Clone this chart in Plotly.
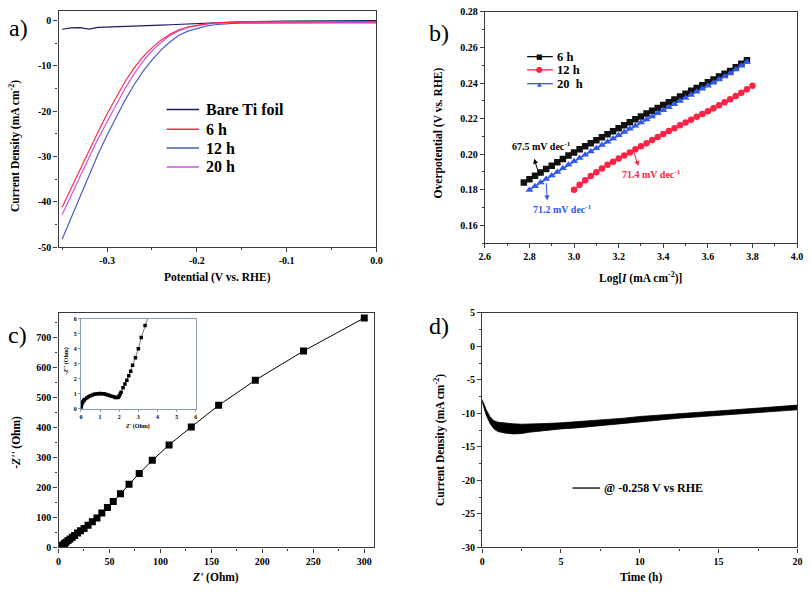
import plotly.graph_objects as go

W, H = 811, 592
def px(x): return x / W
def py(y): return 1 - y / H

FONT = "Liberation Serif"

# ---------------- Panel a: LSV ----------------
lsv_potential = [-0.35, -0.34, -0.33, -0.32, -0.31, -0.30, -0.29, -0.28, -0.27, -0.26,
                 -0.25, -0.24, -0.23, -0.22, -0.21, -0.20, -0.19, -0.18, -0.17, -0.16,
                 -0.15, -0.12, -0.10, -0.05, 0.0]
lsv_bare = [-1.9, -1.6, -1.55, -1.85, -1.5, -1.45, -1.4, -1.3, -1.2, -1.15,
            -1.1, -1.0, -0.9, -0.8, -0.75, -0.7, -0.6, -0.5, -0.4, -0.32,
            -0.28, -0.15, -0.08, -0.03, 0.0]
lsv_6h = [-41.2, -37.0, -32.9, -28.8, -24.6, -20.6, -16.9, -13.5, -10.5, -8.0,
          -6.0, -4.3, -3.0, -2.0, -1.4, -1.0, -0.7, -0.5, -0.4, -0.35,
          -0.3, -0.25, -0.22, -0.2, -0.2]
lsv_12h = [-48.3, -43.5, -38.7, -34.0, -29.5, -25.3, -21.3, -17.6, -14.2, -11.2,
           -8.7, -6.5, -4.7, -3.2, -2.3, -1.7, -1.2, -0.9, -0.7, -0.6,
           -0.55, -0.5, -0.5, -0.5, -0.5]
lsv_20h = [-42.9, -38.6, -34.4, -30.2, -26.1, -22.3, -18.5, -15.0, -11.8, -9.0,
           -6.7, -4.8, -3.3, -2.2, -1.5, -1.05, -0.75, -0.55, -0.45, -0.4,
           -0.35, -0.3, -0.3, -0.3, -0.3]
a_xticks = [-0.3, -0.2, -0.1, 0.0]
a_xtext = ["-0.3", "-0.2", "-0.1", "0.0"]
a_yticks = [-50, -40, -30, -20, -10, 0]
a_ytext = ["-50", "-40", "-30", "-20", "-10", "0"]

# ---------------- Panel b: Tafel ----------------
tafel_6h_x = [2.775, 2.800, 2.825, 2.850, 2.875, 2.900, 2.925, 2.950, 2.975, 3.000,
              3.025, 3.050, 3.075, 3.100, 3.125, 3.150, 3.175, 3.200, 3.225, 3.250,
              3.275, 3.300, 3.325, 3.350, 3.375, 3.400, 3.425, 3.450, 3.475, 3.500,
              3.525, 3.550, 3.575, 3.600, 3.625, 3.650, 3.675, 3.700, 3.725, 3.750, 3.775]
tafel_6h_y = [.1840, .1859, .1878, .1897, .1916, .1935, .1954, .1973, .1992, .2010,
              .2027, .2044, .2061, .2078, .2095, .2112, .2129, .2146, .2163, .2180,
              .2196, .2212, .2228, .2244, .2260, .2276, .2292, .2308, .2324, .2340,
              .2356, .2372, .2388, .2404, .2420, .2436, .2452, .2468, .2488, .2508, .2528]
tafel_20h_x = [2.800, 2.825, 2.850, 2.875, 2.900, 2.925, 2.950, 2.975, 3.000,
               3.025, 3.050, 3.075, 3.100, 3.125, 3.150, 3.175, 3.200, 3.225, 3.250,
               3.275, 3.300, 3.325, 3.350, 3.375, 3.400, 3.425, 3.450, 3.475, 3.500,
               3.525, 3.550, 3.575, 3.600, 3.625, 3.650, 3.675, 3.700, 3.725, 3.750, 3.775]
tafel_20h_y = [.1799, .1819, .1840, .1860, .1880, .1900, .1921, .1941, .1960,
               .1979, .1997, .2015, .2033, .2052, .2070, .2088, .2107, .2125, .2143,
               .2160, .2178, .2195, .2212, .2230, .2247, .2264, .2281, .2299, .2316,
               .2333, .2351, .2368, .2385, .2402, .2420, .2437, .2454, .2476, .2497, .2518]
tafel_12h_x = [3.000, 3.025, 3.050, 3.075, 3.100, 3.125, 3.150, 3.175, 3.200, 3.225,
               3.250, 3.275, 3.300, 3.325, 3.350, 3.375, 3.400, 3.425, 3.450, 3.475,
               3.500, 3.525, 3.550, 3.575, 3.600, 3.625, 3.650, 3.675, 3.700, 3.725,
               3.750, 3.775, 3.800]
tafel_12h_y = [.1800, .1828, .1853, .1877, .1899, .1920, .1940, .1958, .1975, .1992,
               .2010, .2027, .2045, .2062, .2079, .2096, .2113, .2130, .2146, .2162,
               .2178, .2194, .2210, .2226, .2242, .2258, .2275, .2292, .2309, .2327,
               .2345, .2365, .2385]

# ---------------- Panel c: Nyquist ----------------
eis_zre = [0.02, 0.05, 0.1, 0.15, 0.2, 0.3, 0.4, 0.5, 0.6, 0.7, 0.8, 0.9, 1.0, 1.1,
           1.2, 1.3, 1.4, 1.5, 1.6, 1.7, 1.8, 1.9, 1.95, 2.0, 2.05, 2.1, 2.2, 2.3,
           2.4, 2.5, 2.6, 2.7, 2.85, 3.0, 3.15, 3.35,
           4.2, 5.8, 7.4, 9.3, 11.3, 13.5, 15.8, 18.7, 21.6, 25.1, 29.0, 33.2, 37.7,
           42.5, 48.0, 53.7, 60.8, 69.2, 79.2, 92.0, 108.5, 130.3, 157.1, 193.1, 240.4, 300.0]
eis_zim = [0.1, 0.3, 0.45, 0.55, 0.62, 0.72, 0.8, 0.87, 0.92, 0.96, 0.98, 1.0, 1.01, 1.0,
           0.99, 0.96, 0.92, 0.88, 0.83, 0.79, 0.75, 0.74, 0.76, 0.85, 0.98, 1.1, 1.4, 1.65,
           1.9, 2.2, 2.5, 2.9, 3.4, 4.0, 4.75, 5.55,
           8.7, 13.0, 17.5, 23.0, 28.0, 34.0, 40.0, 48.0, 56.0, 63.0, 74.0, 86.0, 98.0,
           115.0, 133.0, 153.0, 179.0, 211.0, 247.0, 290.5, 342.0, 402.0, 474.0, 558.0, 655.0, 765.5]

# ---------------- Panel d: stability ----------------
chrono_t = [0, 0.1, 0.25, 0.5, 0.75, 1, 1.5, 2, 2.5, 3, 4, 5, 6, 7.5, 9, 10, 11, 12.5,
            14, 15, 16, 17.5, 19, 20]
chrono_upper = [-7.95, -8.6, -9.4, -10.5, -11.1, -11.3, -11.45, -11.55, -11.6, -11.6, -11.5,
                -11.4, -11.25, -11.0, -10.7, -10.45, -10.3, -10.0, -9.75, -9.6, -9.45, -9.2,
                -8.95, -8.75]
chrono_lower = [-8.25, -9.2, -10.2, -11.5, -12.3, -12.7, -12.95, -13.05, -13.0, -12.8, -12.5,
                -12.3, -12.15, -11.8, -11.5, -11.25, -11.0, -10.7, -10.45, -10.3, -10.15, -9.9,
                -9.65, -9.45]
d_yticks = [-30, -25, -20, -15, -10, -5, 0, 5]
d_ytext = ["-30", "-25", "-20", "-15", "-10", "-5", "0", "5"]

C_BARE = "#1c1c60"
C_6 = "#ff2a50"
C_12 = "#4a5cc8"
C_20 = "#cc55dd"
B_BLACK = "#111111"
B_RED = "#ff2244"
B_BLUE = "#3358ee"
AXC = "#3a3a3a"

fig = go.Figure()

# Panel a traces
fig.add_trace(go.Scatter(x=lsv_potential, y=lsv_bare, mode="lines", line=dict(color=C_BARE, width=1.2), xaxis="x", yaxis="y"))
fig.add_trace(go.Scatter(x=lsv_potential, y=lsv_12h, mode="lines", line=dict(color=C_12, width=1.2), xaxis="x", yaxis="y"))
fig.add_trace(go.Scatter(x=lsv_potential, y=lsv_20h, mode="lines", line=dict(color=C_20, width=1.2), xaxis="x", yaxis="y"))
fig.add_trace(go.Scatter(x=lsv_potential, y=lsv_6h, mode="lines", line=dict(color=C_6, width=1.2), xaxis="x", yaxis="y"))

# Panel b traces
fig.add_trace(go.Scatter(x=tafel_12h_x, y=tafel_12h_y, mode="lines+markers", line=dict(color=B_RED, width=1.5),
                         marker=dict(symbol="circle", size=6.5, color=B_RED), xaxis="x2", yaxis="y2"))
fig.add_trace(go.Scatter(x=tafel_6h_x, y=tafel_6h_y, mode="lines+markers", line=dict(color=B_BLACK, width=1.5),
                         marker=dict(symbol="square", size=6.5, color=B_BLACK), xaxis="x2", yaxis="y2"))
fig.add_trace(go.Scatter(x=tafel_20h_x, y=tafel_20h_y, mode="lines+markers", line=dict(color=B_BLUE, width=1.5),
                         marker=dict(symbol="triangle-up", size=7, color=B_BLUE), xaxis="x2", yaxis="y2"))

# Panel c traces
fig.add_trace(go.Scatter(x=eis_zre, y=eis_zim, mode="lines+markers", line=dict(color="black", width=1),
                         marker=dict(symbol="square", size=7, color="black"), xaxis="x3", yaxis="y3"))
fig.add_trace(go.Scatter(x=eis_zre, y=eis_zim, mode="lines+markers", line=dict(color="#555555", width=0.8),
                         marker=dict(symbol="square", size=3.5, color="black"), xaxis="x5", yaxis="y5"))

# Panel d traces
fig.add_trace(go.Scatter(x=chrono_t, y=chrono_upper, mode="lines", line=dict(color="black", width=0.8), xaxis="x4", yaxis="y4"))
fig.add_trace(go.Scatter(x=chrono_t, y=chrono_lower, mode="lines", line=dict(color="black", width=0.8),
                         fill="tonexty", fillcolor="black", xaxis="x4", yaxis="y4"))

tickfont = dict(family=FONT, size=10, color="black", weight="bold")

def axis(domain, rng, anchor, dtick=None, tick0=None, minor_dtick=None, tickvals=None, ticktext=None,
         fmt=None, font=tickfont, linecolor=AXC, ticklen=4, lw=1.3):
    d = dict(domain=domain, range=rng, anchor=anchor, showline=True, linecolor=linecolor, linewidth=lw,
             mirror=True, ticks="outside", ticklen=ticklen, tickwidth=1, tickcolor=linecolor,
             showgrid=False, zeroline=False, tickfont=font, fixedrange=True,
             ticklabeloverflow="allow")
    if tickvals is not None:
        d.update(tickmode="array", tickvals=tickvals, ticktext=ticktext)
    else:
        d.update(tickmode="linear", dtick=dtick)
        if tick0 is not None:
            d["tick0"] = tick0
    if fmt:
        d["tickformat"] = fmt
    if minor_dtick:
        d["minor"] = dict(tickmode="linear", tick0=0, dtick=minor_dtick, ticks="outside",
                          ticklen=2, tickcolor=linecolor, showgrid=False)
    return d

fig.update_layout(
    width=W, height=H, margin=dict(l=0, r=0, t=0, b=0),
    paper_bgcolor="white", plot_bgcolor="white", showlegend=False,
    xaxis=axis([px(53.3), px(376)], [-0.354, 0], "y", tickvals=a_xticks, ticktext=a_xtext, minor_dtick=0.05),
    yaxis=axis([py(246), py(5)], [-50, 2.16], "x", tickvals=a_yticks, ticktext=a_ytext, minor_dtick=5),
    xaxis2=axis([px(486), px(803)], [2.6, 4.0], "y2", dtick=0.2, tick0=2.6, fmt=".1f", minor_dtick=0.1),
    yaxis2=axis([py(242), py(6)], [0.15, 0.28], "x2", dtick=0.02, tick0=0.16, fmt=".2f", minor_dtick=0.01),
    xaxis3=axis([px(53.3), px(374)], [0, 310], "y3", dtick=50, minor_dtick=25),
    yaxis3=axis([py(552.7), py(313.3)], [0, 782], "x3", dtick=100, minor_dtick=50),
    xaxis4=axis([px(483.3), px(803.3)], [0, 20], "y4", dtick=5, minor_dtick=2.5),
    yaxis4=axis([py(552.7), py(313.3)], [-30, 5], "x4", tickvals=d_yticks, ticktext=d_ytext, minor_dtick=2.5),
    xaxis5=axis([px(76), px(192.7)], [0, 6], "y5", dtick=1,
                font=dict(family=FONT, size=6, color="black", weight="bold"), linecolor="#8a9ab0", ticklen=2, lw=1),
    yaxis5=axis([py(411), py(319.3)], [0, 6], "x5", dtick=1,
                font=dict(family=FONT, size=6, color="black", weight="bold"), linecolor="#8a9ab0", ticklen=2, lw=1),
)

ann = []
shapes = []

def text(x, y, s, size=11, color="black", bold=True, angle=0, xanchor="center", family=FONT):
    ann.append(dict(x=x, y=y, xref="paper", yref="paper", text=s, showarrow=False, textangle=angle,
                    xanchor=xanchor, yanchor="middle",
                    font=dict(family=family, size=size, color=color, weight="bold" if bold else "normal")))

# panel labels
text(px(13), py(22), "a)", size=24, bold=False)
text(px(439), py(28), "b)", size=24, bold=False)
text(px(12), py(336), "c)", size=24, bold=False)
text(px(439), py(327), "d)", size=24, bold=False)

# axis titles
text(px(8), py(143), "Current Density (mA cm<sup>-2</sup>)", size=11.5, angle=-90)
text(px(214.5), py(277), "Potential (V vs. RHE)", size=11.5)
text(px(439), py(129.5), "Overpotential (V vs. RHE)", size=11.5, angle=-90)
text(px(644.5), py(277), "Log[<i>I</i> (mA cm<sup>-2</sup>)]", size=11.5)
text(px(11), py(445), "-<i>Z''</i> (Ohm)", size=11.5, angle=-90)
text(px(213), py(583), "<i>Z'</i> (Ohm)", size=11.5)
text(px(440), py(442.5), "Current Density (mA cm<sup>-2</sup>)", size=11.5, angle=-90)
text(px(644.5), py(583), "Time (h)", size=11.5)
# inset titles
text(px(62), py(362), "-<i>Z''</i> (Ohm)", size=6, angle=-90)
text(px(133.5), py(429), "<i>Z'</i> (Ohm)", size=6)

# panel a legend
a_leg = [("Bare Ti foil", C_BARE, 105.7), ("6 h", C_6, 125.7), ("12 h", C_12, 145), ("20 h", C_20, 164.3)]
for name, col, yy in a_leg:
    shapes.append(dict(type="line", xref="paper", yref="paper", x0=px(163), x1=px(196), y0=py(yy), y1=py(yy),
                       line=dict(color=col, width=1.5)))
    text(px(201), py(yy), name, size=16, xanchor="left")

# panel b legend
b_leg = [("6 h", B_BLACK, "\u25A0", 51.7, 7), ("12 h", B_RED, "\u25CF", 65.2, 8), ("20\u00a0 h", B_BLUE, "\u25B2", 79.3, 6)]
for name, col, sym, yy, ss in b_leg:
    shapes.append(dict(type="line", xref="paper", yref="paper", x0=px(529), x1=px(555), y0=py(yy), y1=py(yy),
                       line=dict(color=col, width=1.3)))
    text(px(542), py(yy), sym, size=ss, color=col, bold=False, family="DejaVu Sans")
    text(px(557), py(yy), name, size=12.5, xanchor="left")

# panel b slope annotations
text(px(543.5), py(143.3), "67.5 mV dec<sup>-1</sup>", size=10, color="black")
text(px(655.5), py(171.7), "71.4 mV dec<sup>-1</sup>", size=10, color="#ff2244")
text(px(565), py(207.3), "71.2 mV dec<sup>-1</sup>", size=10, color="#3358ee")
arrows = [((2.821, 0.1974), (2.847, 0.1872), "black"),
          ((3.288, 0.1933), (3.2625, 0.2034), "#ff2244"),
          ((2.880, 0.1740), (2.875, 0.1845), "#3358ee")]
for (hx, hy), (tx, ty), col in arrows:
    ann.append(dict(x=hx, y=hy, xref="x2", yref="y2", ax=tx, ay=ty, axref="x2", ayref="y2", text="",
                    showarrow=True, arrowhead=2, arrowsize=1, arrowwidth=1, arrowcolor=col))

# panel d legend
shapes.append(dict(type="line", xref="paper", yref="paper", x0=px(575), x1=px(603), y0=py(492), y1=py(492),
                   line=dict(color="black", width=1.3)))
text(px(605), py(492), "@ -0.258 V vs RHE", size=12, xanchor="left")

fig.update_layout(annotations=ann, shapes=shapes)
fig.write_html("out.html", config={"displayModeBar": False},
               post_script="document.body.style.margin='0';document.body.style.overflow='hidden';")
